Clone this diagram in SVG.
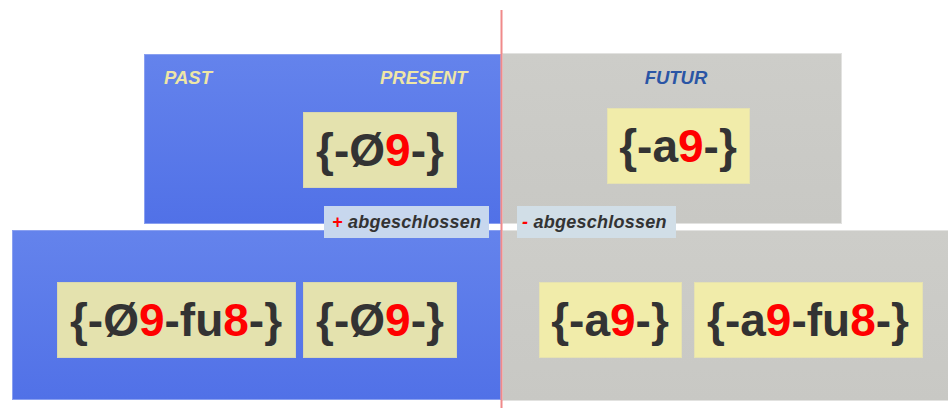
<svg xmlns="http://www.w3.org/2000/svg" width="948" height="408" viewBox="0 0 948 408">
<defs>
<linearGradient id="gBlue" x1="0" y1="0" x2="0" y2="1">
<stop offset="0" stop-color="#6483ec"/>
<stop offset="1" stop-color="#5171e7"/>
</linearGradient>
<linearGradient id="gGray" x1="0" y1="0" x2="0" y2="1">
<stop offset="0" stop-color="#cdcdc9"/>
<stop offset="1" stop-color="#c8c8c4"/>
</linearGradient>
</defs>
<style>
.blue{fill:url(#gBlue);stroke:#8aa0f0;stroke-width:1}
.gray{fill:url(#gGray);stroke:#e2e2e0;stroke-width:1}
.ybL{fill:#e4e2ae;stroke:#d8d7b0;stroke-width:1}
.ybR{fill:#f1ecaa;stroke:#e6e2b0;stroke-width:1}
.big{font-family:"Liberation Sans",Arial,sans-serif;font-weight:bold;font-size:46px;fill:#333333;text-anchor:middle}
.r{fill:#ff0000}
.hdr{font-family:"Liberation Sans",Arial,sans-serif;font-weight:bold;font-style:italic;font-size:18.5px}
.lbl{font-family:"Liberation Sans",Arial,sans-serif;font-weight:bold;font-style:italic;font-size:18px;letter-spacing:0.25px;fill:#333333}
</style>
<rect width="948" height="408" fill="#ffffff"/>
<g id="past-present-top">
<rect class="blue" x="144.5" y="54.5" width="356" height="169"/>
<text class="hdr" x="164" y="84" fill="#eee6a6">PAST</text>
<text class="hdr" x="380" y="84" fill="#eee6a6">PRESENT</text>
</g>
<g id="futur-top">
<rect class="gray" x="502.5" y="53.5" width="339" height="170"/>
<text class="hdr" x="676" y="84" fill="#2a55a5" text-anchor="middle">FUTUR</text>
</g>
<g id="past-bottom">
<rect class="blue" x="12.5" y="230.5" width="488" height="169"/>
</g>
<g id="futur-bottom">
<rect class="gray" x="502.5" y="230.5" width="446" height="170"/>
</g>
<g id="node-o9-top">
<rect class="ybL" x="303.5" y="112.5" width="153" height="75"/>
<text class="big" x="380" y="166">{-Ø<tspan class="r">9</tspan>-}</text>
</g>
<g id="node-a9-top">
<rect class="ybR" x="607.5" y="108.5" width="142" height="75"/>
<text class="big" x="678" y="162">{-a<tspan class="r">9</tspan>-}</text>
</g>
<g id="node-o9fu8">
<rect class="ybL" x="57.5" y="282.5" width="238" height="75"/>
<text class="big" x="176" y="336">{-Ø<tspan class="r">9</tspan>-fu<tspan class="r">8</tspan>-}</text>
</g>
<g id="node-o9-bottom">
<rect class="ybL" x="303.5" y="282.5" width="153" height="75"/>
<text class="big" x="380" y="336">{-Ø<tspan class="r">9</tspan>-}</text>
</g>
<g id="node-a9-bottom">
<rect class="ybR" x="539.5" y="282.5" width="142" height="75"/>
<text class="big" x="610" y="336">{-a<tspan class="r">9</tspan>-}</text>
</g>
<g id="node-a9fu8">
<rect class="ybR" x="694.5" y="282.5" width="228" height="75"/>
<text class="big" x="808" y="336">{-a<tspan class="r">9</tspan>-fu<tspan class="r">8</tspan>-}</text>
</g>
<g id="label-plus">
<rect x="324" y="206" width="165" height="32" fill="#c7d7ee"/>
<text class="lbl" x="332" y="228"><tspan class="r">+</tspan> abgeschlossen</text>
</g>
<g id="label-minus">
<rect x="517" y="206" width="159" height="32" fill="#d1dee7"/>
<text class="lbl" x="522" y="228"><tspan class="r">-</tspan> abgeschlossen</text>
</g>
<g id="connectors">
<line x1="501.5" y1="10" x2="501.5" y2="408" stroke="#f08a8a" stroke-width="2"/>
</g>
</svg>
